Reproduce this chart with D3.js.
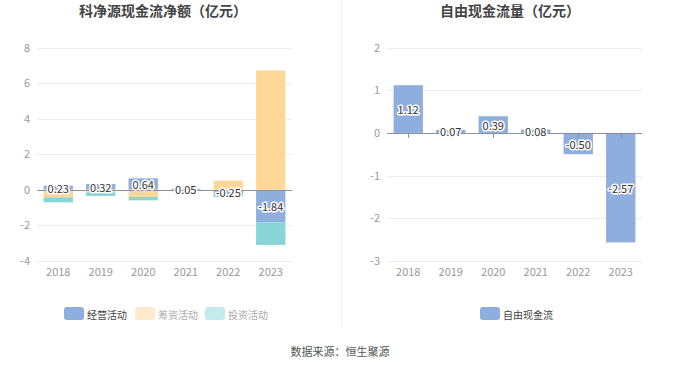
<!DOCTYPE html>
<html><head><meta charset="utf-8">
<script src="https://cdn.jsdelivr.net/npm/d3@7"></script>
<style>
html,body{margin:0;padding:0;background:#fff;}
svg{display:block;font-family:"Noto Sans CJK SC","Noto Sans",sans-serif;}
</style></head>
<body>
<script>
const years = ["2018","2019","2020","2021","2022","2023"];
const operating = [0.23, 0.32, 0.64, 0.05, -0.25, -1.84];
const financing = [-0.43, -0.15, -0.41, 0.00, 0.51, 6.72];
const investing = [-0.28, -0.20, -0.19, -0.05, -0.15, -1.27];
const freeCash = [1.12, 0.07, 0.39, 0.08, -0.50, -2.57];
const leftTicks = [-4, -2, 0, 2, 4, 6, 8];
const rightTicks = [-3, -2, -1, 0, 1, 2];
const seriesNames = ["经营活动", "筹资活动", "投资活动"];
const seriesColors = ["#8eaedd", "#ffd898", "#88d5d7"];
const legendSwatch = ["#8eaedd", "#ffebcb", "#c3ebec"];
const legendText = ["#444", "#aaa", "#aaa"];

const W = 680, H = 367;
const svg = d3.select("body").append("svg").attr("width", W).attr("height", H);

// titles
svg.append("text").attr("x", 163).attr("y", 16).attr("text-anchor", "middle")
  .attr("font-size", 14).attr("font-weight", "bold").attr("fill", "#444").text("科净源现金流净额（亿元）");
svg.append("text").attr("x", 510).attr("y", 16).attr("text-anchor", "middle")
  .attr("font-size", 14).attr("font-weight", "bold").attr("fill", "#444").text("自由现金流量（亿元）");
// divider
svg.append("line").attr("x1", 341.5).attr("x2", 341.5).attr("y1", 0).attr("y2", 326)
  .attr("stroke", "#f0f0f0").attr("stroke-width", 1);

function drawLabel(g, x, y, txt) {
  g.append("text").attr("x", x).attr("y", y).attr("text-anchor", "middle").attr("dominant-baseline", "central")
    .attr("font-size", 11).attr("fill", "#fff").attr("stroke", "#fff").attr("stroke-width", 3)
    .attr("stroke-linejoin", "round").text(txt);
  g.append("text").attr("x", x).attr("y", y).attr("text-anchor", "middle").attr("dominant-baseline", "central")
    .attr("font-size", 11).attr("fill", "#333").text(txt);
}

function axes(g, x, y, ticks, x0, x1) {
  ticks.forEach(t => {
    if (t !== 0) g.append("line").attr("x1", x0).attr("x2", x1).attr("y1", Math.round(y(t)) + 0.5).attr("y2", Math.round(y(t)) + 0.5)
      .attr("stroke", "#e9edf6");
    g.append("text").attr("x", x0 - 7).attr("y", y(t) - 1).attr("text-anchor", "end").attr("dominant-baseline", "central")
      .attr("font-size", 11).attr("fill", "#999").text(t);
  });
  years.forEach(yr => {
    g.append("text").attr("x", x(yr) + x.bandwidth() / 2).attr("y", 271).attr("text-anchor", "middle")
      .attr("dominant-baseline", "central").attr("font-size", 11).attr("fill", "#999").text(yr);
  });
}

// LEFT chart
{
  const g = svg.append("g");
  const x = d3.scaleBand().domain(years).range([37, 292]).paddingInner(0.31).paddingOuter(0.155);
  const y = d3.scaleLinear().domain([-4, 8]).range([260.7, 47.7]);
  axes(g, x, y, leftTicks, 37, 292);
  const rows = years.map((yr, i) => ({year: yr, op: operating[i], fin: financing[i], inv: investing[i]}));
  const stack = d3.stack().keys(["op", "fin", "inv"]).offset(d3.stackOffsetDiverging);
  const layers = stack(rows);
  layers.forEach((layer, li) => {
    g.selectAll(null).data(layer).enter().append("rect")
      .attr("x", d => x(d.data.year)).attr("width", x.bandwidth())
      .attr("y", d => y(Math.max(d[0], d[1])))
      .attr("height", d => Math.abs(y(d[0]) - y(d[1])))
      .attr("fill", seriesColors[li]);
  });
  g.append("line").attr("x1", 37).attr("x2", 292).attr("y1", Math.round(y(0)) + 0.5).attr("y2", Math.round(y(0)) + 0.5)
    .attr("stroke", "#8a8f99");
  layers[0].forEach(d => {
    drawLabel(g, x(d.data.year) + x.bandwidth() / 2, (y(d[0]) + y(d[1])) / 2, d.data.op.toFixed(2));
  });
  // legend
  const lx = [64, 135, 205];
  seriesNames.forEach((n, i) => {
    g.append("rect").attr("x", lx[i]).attr("y", 307).attr("width", 20).attr("height", 13).attr("rx", 3)
      .attr("fill", legendSwatch[i]);
    g.append("text").attr("x", lx[i] + 23).attr("y", 314).attr("dominant-baseline", "central")
      .attr("font-size", 10).attr("fill", legendText[i]).text(n);
  });
}

// RIGHT chart
{
  const g = svg.append("g");
  const x = d3.scaleBand().domain(years).range([387, 642]).paddingInner(0.31).paddingOuter(0.155);
  const y = d3.scaleLinear().domain([-3, 2]).range([260.7, 47.7]);
  axes(g, x, y, rightTicks, 387, 642);
  g.selectAll(null).data(freeCash).enter().append("rect")
    .attr("x", (d, i) => x(years[i])).attr("width", x.bandwidth())
    .attr("y", d => y(Math.max(0, d))).attr("height", d => Math.abs(y(d) - y(0)))
    .attr("fill", seriesColors[0]);
  g.append("line").attr("x1", 387).attr("x2", 642).attr("y1", Math.round(y(0)) + 0.5).attr("y2", Math.round(y(0)) + 0.5)
    .attr("stroke", "#8a8f99");
  years.forEach(yr => {
    const cx = Math.round(x(yr) + x.bandwidth() / 2) + 0.5;
    g.append("line").attr("x1", cx).attr("x2", cx).attr("y1", y(0)).attr("y2", y(0) + 5).attr("stroke", "#8a8f99");
  });
  freeCash.forEach((v, i) => {
    drawLabel(g, x(years[i]) + x.bandwidth() / 2, (y(0) + y(v)) / 2, v.toFixed(2));
  });
  g.append("rect").attr("x", 480).attr("y", 307).attr("width", 20).attr("height", 13).attr("rx", 3)
    .attr("fill", seriesColors[0]);
  g.append("text").attr("x", 503).attr("y", 314).attr("dominant-baseline", "central")
    .attr("font-size", 10).attr("fill", "#444").text("自由现金流");
}

svg.append("text").attr("x", 340).attr("y", 351).attr("text-anchor", "middle").attr("dominant-baseline", "central")
  .attr("font-size", 11).attr("fill", "#555").text("数据来源：恒生聚源");
</script>
</body></html>
